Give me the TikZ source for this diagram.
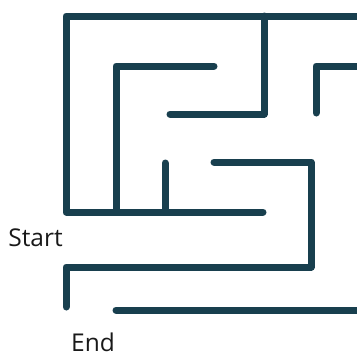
\documentclass[tikz,border=0pt]{standalone}
\usepackage{fontspec}
\setmainfont{Open Sans}
\usepackage{xcolor}
\usetikzlibrary{positioning}
\definecolor{mazeteal}{RGB}{24,63,78}

\begin{document}
\begin{tikzpicture}[
  x=1pt, y=-1pt,
  wall/.style={draw=mazeteal, line width=7pt, line cap=round, line join=round},
  lbl/.style={inner sep=0pt, font=\fontsize{24.5}{28}\selectfont, text=black!90}
]
  \useasboundingbox (0,0) rectangle (357,354);
  % outer walls
  \draw[wall] (357,16) -- (66,16) -- (66,212) -- (263,212);
  \draw[wall] (214,66) -- (116,66) -- (116,212);
  \draw[wall] (165,163) -- (165,212);
  \draw[wall] (264,16) -- (264,114) -- (170,114);
  \draw[wall] (316,113) -- (316,66) -- (357,66);
  % lower walls
  \draw[wall] (214,162) -- (311,162) -- (311,267) -- (66,267) -- (66,307);
  \draw[wall] (116,310) -- (357,310);
  \node[lbl] (start) at (35.5,237.5) {Start};
  \node[lbl] (end) at (93,342) {End};
\end{tikzpicture}
\end{document}
